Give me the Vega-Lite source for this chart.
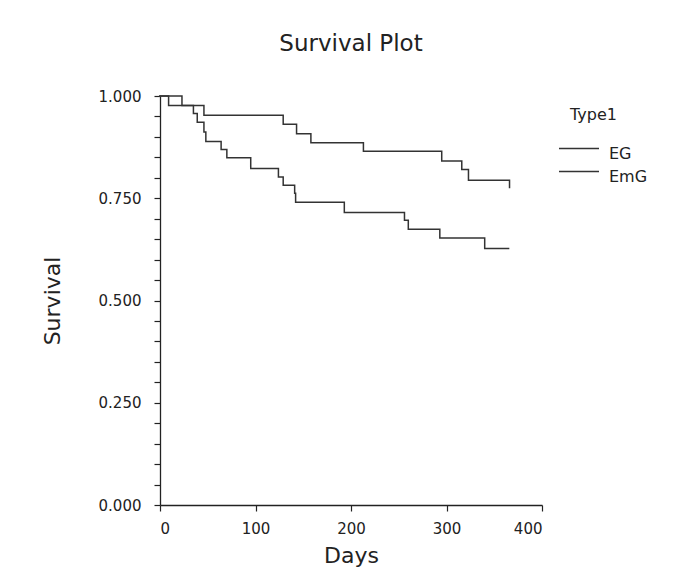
{
  "$schema": "https://vega.github.io/schema/vega-lite/v6.json",
  "width": 382,
  "height": 409,
  "autosize": {"type": "none"},
  "padding": {"left": 160, "top": 96, "right": 143, "bottom": 77},
  "background": "white",
  "config": {
    "view": {"stroke": null},
    "font": "DejaVu Sans",
    "axis": {"grid": false, "domainColor": "#222", "tickColor": "#222", "labelColor": "#222", "titleColor": "#222", "labelFont": "DejaVu Sans", "titleFont": "DejaVu Sans", "labelFontSize": 15, "titleFontSize": 22, "titleFontWeight": "normal", "tickSize": 6, "domainWidth": 1.3, "tickWidth": 1.2}
  },
  "title": {"text": "Survival Plot", "fontSize": 23, "fontWeight": "normal", "font": "DejaVu Sans", "color": "#222", "anchor": "middle", "offset": 33},
  "data": {"values": [
    {"Type1": "EG", "Days": 0, "Survival": 1.0},
    {"Type1": "EG", "Days": 23, "Survival": 0.977},
    {"Type1": "EG", "Days": 46, "Survival": 0.953},
    {"Type1": "EG", "Days": 129, "Survival": 0.931},
    {"Type1": "EG", "Days": 143, "Survival": 0.908},
    {"Type1": "EG", "Days": 158, "Survival": 0.886},
    {"Type1": "EG", "Days": 213, "Survival": 0.865},
    {"Type1": "EG", "Days": 295, "Survival": 0.841},
    {"Type1": "EG", "Days": 316, "Survival": 0.82},
    {"Type1": "EG", "Days": 323, "Survival": 0.794},
    {"Type1": "EG", "Days": 366, "Survival": 0.794},
    {"Type1": "EG", "Days": 366, "Survival": 0.776},
    {"Type1": "EmG", "Days": 0, "Survival": 1.0},
    {"Type1": "EmG", "Days": 9, "Survival": 0.977},
    {"Type1": "EmG", "Days": 35, "Survival": 0.957},
    {"Type1": "EmG", "Days": 39, "Survival": 0.936},
    {"Type1": "EmG", "Days": 46, "Survival": 0.912},
    {"Type1": "EmG", "Days": 48, "Survival": 0.889},
    {"Type1": "EmG", "Days": 64, "Survival": 0.869},
    {"Type1": "EmG", "Days": 70, "Survival": 0.849},
    {"Type1": "EmG", "Days": 95, "Survival": 0.823},
    {"Type1": "EmG", "Days": 124, "Survival": 0.802},
    {"Type1": "EmG", "Days": 129, "Survival": 0.782},
    {"Type1": "EmG", "Days": 141, "Survival": 0.762},
    {"Type1": "EmG", "Days": 142, "Survival": 0.74},
    {"Type1": "EmG", "Days": 193, "Survival": 0.715},
    {"Type1": "EmG", "Days": 256, "Survival": 0.696},
    {"Type1": "EmG", "Days": 260, "Survival": 0.674},
    {"Type1": "EmG", "Days": 293, "Survival": 0.653},
    {"Type1": "EmG", "Days": 340, "Survival": 0.627},
    {"Type1": "EmG", "Days": 365, "Survival": 0.627}
  ]},
  "mark": {"type": "line", "interpolate": "step-after", "strokeWidth": 1.5, "strokeCap": "square"},
  "encoding": {
    "x": {"field": "Days", "type": "quantitative", "scale": {"domain": [0, 400], "nice": false, "zero": true},
      "axis": {"values": [0, 100, 200, 300, 400], "title": "Days", "titlePadding": 9, "labelPadding": 10}},
    "y": {"field": "Survival", "type": "quantitative", "scale": {"domain": [0, 1], "nice": false},
      "axis": {"values": [0, 0.05, 0.1, 0.15, 0.2, 0.25, 0.3, 0.35, 0.4, 0.45, 0.5, 0.55, 0.6, 0.65, 0.7, 0.75, 0.8, 0.85, 0.9, 0.95, 1.0],
        "labelExpr": "abs(round(datum.value * 4) - datum.value * 4) < 0.001 ? format(datum.value, '.3f') : ''",
        "title": "Survival", "titlePadding": 34, "labelPadding": 13}},
    "color": {"field": "Type1", "type": "nominal", "scale": {"range": ["#333333", "#333333"]},
      "legend": {"orient": "none", "legendX": 410, "legendY": 11, "title": "Type1", "titleFontSize": 16, "titleFontWeight": "normal", "titleColor": "#222", "labelColor": "#222", "labelFontSize": 16, "titleAnchor": "start", "symbolType": "M-1.889,-0.37L1.074,-0.37", "symbolSize": 729, "symbolStrokeWidth": 1.3, "labelOffset": 10, "labelBaseline": "middle", "rowPadding": 0, "titlePadding": 16, "titleFont": "DejaVu Sans", "labelFont": "DejaVu Sans"}}
  }
}
